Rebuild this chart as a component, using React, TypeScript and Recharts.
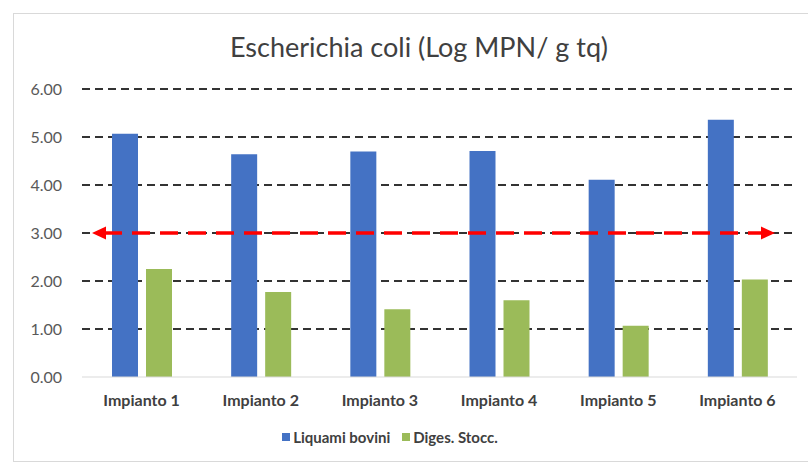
import { BarChart, Bar, XAxis, YAxis, CartesianGrid, Legend, ReferenceLine } from 'recharts';

const categories = ['Impianto 1', 'Impianto 2', 'Impianto 3', 'Impianto 4', 'Impianto 5', 'Impianto 6'];
const liquamiBovini = [5.07, 4.64, 4.7, 4.71, 4.11, 5.36];
const digesStocc = [2.25, 1.77, 1.41, 1.6, 1.07, 2.03];
const yTicks = [0, 1, 2, 3, 4, 5, 6];
const threshold = 3;

const series = [
  { key: 'liquami', name: 'Liquami bovini', color: '#4472C4' },
  { key: 'diges', name: 'Diges. Stocc.', color: '#9BBB59' },
];

const data = categories.map((c, i) => ({ name: c, liquami: liquamiBovini[i], diges: digesStocc[i] }));

const font = 'Lato, "Open Sans", sans-serif';

// red dashed double arrow across the plot
const ArrowLine = (props: any) => {
  const { x1, x2, y1 } = props;
  const left = x1 + 10;
  const right = x2 - 22;
  return (
    <g>
      <line x1={left + 12} y1={y1} x2={right - 12} y2={y1} stroke="#FF0000" strokeWidth={3.5} strokeDasharray="18 10" />
      <polygon points={`${left},${y1} ${left + 14},${y1 - 6.5} ${left + 14},${y1 + 6.5}`} fill="#FF0000" />
      <polygon points={`${right},${y1} ${right - 14},${y1 - 6.5} ${right - 14},${y1 + 6.5}`} fill="#FF0000" />
    </g>
  );
};

const LegendContent = () => (
  <div style={{ display: 'flex', justifyContent: 'center', gap: 12, paddingRight: 30, fontFamily: font, fontWeight: 700, fontSize: 15, color: '#404040' }}>
    {series.map((s) => (
      <span key={s.key} style={{ display: 'flex', alignItems: 'center' }}>
        <span style={{ width: 8, height: 8, background: s.color, marginRight: 3, display: 'inline-block' }} />
        {s.name}
      </span>
    ))}
  </div>
);

export default function App() {
  return (
    <div style={{ position: 'fixed', left: 0, top: 0, width: 808, height: 469, background: '#fff' }}>
      <div style={{ position: 'absolute', left: 13, top: 13, width: 800, height: 447, border: '1px solid #d9d9d9' }} />
      <div
        style={{
          position: 'absolute',
          left: 0,
          width: 838,
          top: 30,
          textAlign: 'center',
          fontFamily: font,
          fontSize: 27,
          color: '#404040',
        }}
      >
        Escherichia coli (Log MPN/ g tq)
      </div>
      <div style={{ position: 'absolute', left: 0, top: 0 }}>
        <BarChart width={808} height={469} data={data} margin={{ top: 89, right: 11, bottom: 17, left: 13 }} barGap={8} barSize={26}>
          <CartesianGrid vertical={false} horizontalValues={[1, 2, 3, 4, 5, 6]} stroke="#333" strokeWidth={2} strokeDasharray="8 5" />
          <XAxis
            dataKey="name"
            height={51}
            axisLine={{ stroke: '#d9d9d9' }}
            tickLine={false}
            tickMargin={12}
            tick={{ fill: '#404040', fontSize: 16, fontWeight: 700, fontFamily: font }}
          />
          <YAxis
            width={69}
            domain={[0, 6]}
            ticks={yTicks}
            axisLine={false}
            tickLine={false}
            tickMargin={14}
            tickFormatter={(v: number) => v.toFixed(2)}
            tick={{ fill: '#595959', fontSize: 16, fontFamily: font }}
          />
          <Legend verticalAlign="bottom" height={24} content={<LegendContent />} />
          {series.map((s) => (
            <Bar key={s.key} dataKey={s.key} name={s.name} fill={s.color} isAnimationActive={false} />
          ))}
          <ReferenceLine y={threshold} shape={<ArrowLine />} />
        </BarChart>
      </div>
    </div>
  );
}
